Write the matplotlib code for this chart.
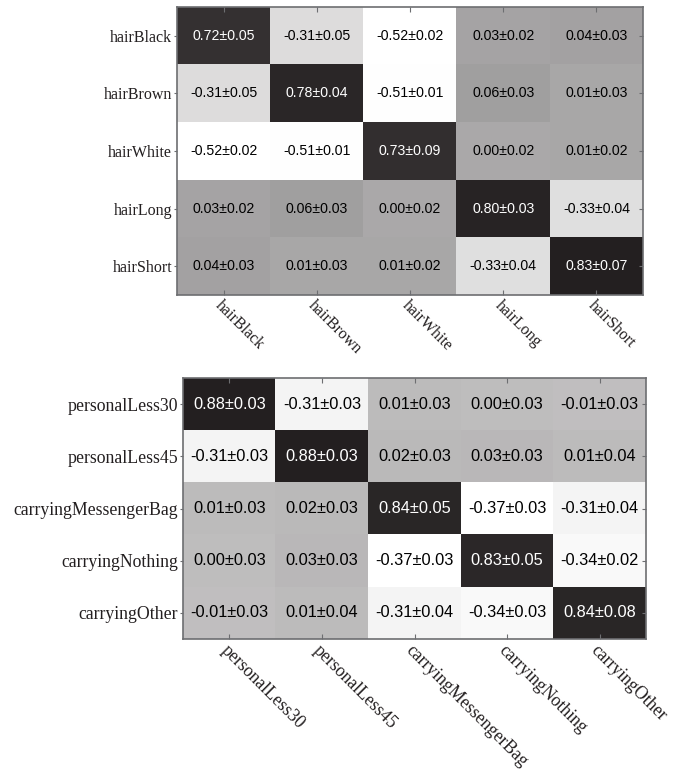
import numpy as np
import matplotlib
matplotlib.use("Agg")
import matplotlib.pyplot as plt
from matplotlib.colors import LinearSegmentedColormap
from matplotlib.transforms import ScaledTranslation

# Hair attributes: mean correlation and spread
hair_labels = ["hairBlack", "hairBrown", "hairWhite", "hairLong", "hairShort"]
hair_mean = [
    [0.72, -0.31, -0.52, 0.03, 0.04],
    [-0.31, 0.78, -0.51, 0.06, 0.01],
    [-0.52, -0.51, 0.73, 0.00, 0.01],
    [0.03, 0.06, 0.00, 0.80, -0.33],
    [0.04, 0.01, 0.01, -0.33, 0.83],
]
hair_std = [
    [0.05, 0.05, 0.02, 0.02, 0.03],
    [0.05, 0.04, 0.01, 0.03, 0.03],
    [0.02, 0.01, 0.09, 0.02, 0.02],
    [0.02, 0.03, 0.02, 0.03, 0.04],
    [0.03, 0.03, 0.02, 0.04, 0.07],
]

# Age / carrying attributes
misc_labels = ["personalLess30", "personalLess45", "carryingMessengerBag",
               "carryingNothing", "carryingOther"]
misc_mean = [
    [0.88, -0.31, 0.01, 0.00, -0.01],
    [-0.31, 0.88, 0.02, 0.03, 0.01],
    [0.01, 0.02, 0.84, -0.37, -0.31],
    [0.00, 0.03, -0.37, 0.83, -0.34],
    [-0.01, 0.01, -0.31, -0.34, 0.84],
]
misc_std = [
    [0.03, 0.03, 0.03, 0.03, 0.03],
    [0.03, 0.03, 0.03, 0.03, 0.04],
    [0.03, 0.03, 0.05, 0.03, 0.04],
    [0.03, 0.03, 0.03, 0.05, 0.02],
    [0.03, 0.04, 0.04, 0.03, 0.08],
]

W, H, DPI = 682, 770, 100
fig = plt.figure(figsize=(W / DPI, H / DPI), dpi=DPI)
cmap = LinearSegmentedColormap.from_list("wk", ["#ffffff", "#231f20"])
SPINE = "#6d6e71"
LABEL_C = "#231f20"


def px_axes(x0, y0, x1, y1):
    return fig.add_axes([x0 / W, 1 - y1 / H, (x1 - x0) / W, (y1 - y0) / H])


def draw(ax, labels, mean, std, cell_fs, lab_fs, xoff):
    m = np.array(mean)
    s = np.array(std)
    n = len(labels)
    ax.imshow(m, cmap=cmap, vmin=m.min(), vmax=m.max(),
              aspect="auto", interpolation="nearest")
    thr = m.min() + 0.6 * (m.max() - m.min())
    for i in range(n):
        for j in range(n):
            c = "white" if m[i, j] > thr else "black"
            ax.text(j, i, f"{m[i, j]:.2f}\u00b1{s[i, j]:.2f}",
                    ha="center", va="center", color=c, fontsize=cell_fs,
                    family="Liberation Sans")
    ax.set_xticks(range(n))
    ax.set_yticks(range(n))
    ax.set_yticklabels(labels, family="Liberation Serif", fontsize=lab_fs,
                       color=LABEL_C)
    ax.set_xticklabels(labels, family="Liberation Serif", fontsize=lab_fs,
                       color=LABEL_C, rotation=-45, ha="left", va="top",
                       rotation_mode="anchor")
    off = ScaledTranslation(xoff[0] / 72, xoff[1] / 72, fig.dpi_scale_trans)
    for t in ax.get_xticklabels():
        t.set_transform(t.get_transform() + off)
    ax.tick_params(axis="x", which="both", direction="in", length=3.5,
                   width=0.8, color=SPINE, top=True, bottom=True, pad=2)
    ax.tick_params(axis="y", which="both", direction="out", length=2.5,
                   width=0.8, color=SPINE, left=True, right=False, pad=1)
    # inward ticks on the right edge
    for k in range(n):
        ax.plot([n - 0.5 - 0.045, n - 0.5], [k, k], color=SPINE, lw=0.8,
                clip_on=False, solid_capstyle="butt")
    for sp in ax.spines.values():
        sp.set_color(SPINE)
        sp.set_linewidth(1.2)


ax1 = px_axes(177, 7, 643, 295)
draw(ax1, hair_labels, hair_mean, hair_std, 10.2, 11.5, (-5, -1))

ax2 = px_axes(183, 378, 646, 639)
draw(ax2, misc_labels, misc_mean, misc_std, 11.8, 12.8, (-7, -1))

fig.savefig("out.png", dpi=DPI)
